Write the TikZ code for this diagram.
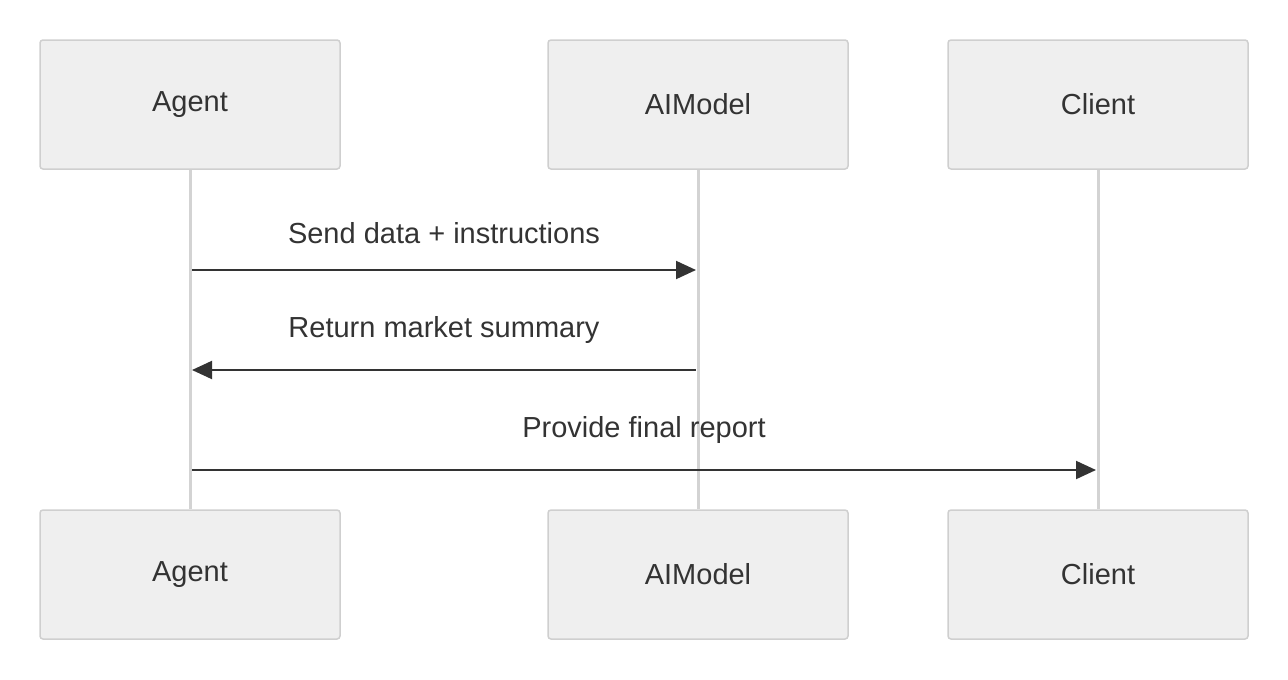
\documentclass[tikz,border=0pt]{standalone}
\usepackage{fontspec}
\setmainfont{Liberation Sans}
\usetikzlibrary{arrows.meta}
\definecolor{boxfill}{HTML}{EFEFEF}
\definecolor{boxline}{HTML}{CFCFCF}
\definecolor{lifeline}{HTML}{D3D3D3}
\definecolor{msgline}{HTML}{333333}

\begin{document}
\begin{tikzpicture}
    [x=1pt, y=-1pt,
    every node/.style = {font=\fontsize{29}{34}\selectfont, text=msgline},
    actor/.style = {draw=boxline, line width=1.5pt, fill=boxfill, rounded corners=3pt,
        minimum width=300pt, minimum height=129pt},
    life/.style = {draw=lifeline, line width=3pt},
    message/.style = {draw=msgline, line width=2pt, -{Triangle[length=20pt, width=18pt]}}
    ]
    \useasboundingbox (0,0) rectangle (1288,680);
    % participants
    \node[actor] (agentTop) at (190,104.5) {Agent};
    \node[actor] (modelTop) at (698,104.5) {AIModel};
    \node[actor] (clientTop) at (1098,104.5) {Client};
    \node[actor] (agentBot) at (190,574.5) {Agent};
    \node[actor] (modelBot) at (698,574.5) {AIModel};
    \node[actor] (clientBot) at (1098,574.5) {Client};
    % lifelines
    \draw[life] (agentTop) -- (agentBot);
    \draw[life] (modelTop) -- (modelBot);
    \draw[life] (clientTop) -- (clientBot);
    % messages
    \coordinate (a1) at (192,270);
    \coordinate (m1) at (696,270);
    \coordinate (m2) at (696,370);
    \coordinate (a2) at (192,370);
    \coordinate (a3) at (192,470);
    \coordinate (c3) at (1096,470);
    \draw[message] (a1) -- (m1) node[midway, above=22pt] (sendLabel) {Send data + instructions};
    \draw[message] (m2) -- (a2) node[midway, above=22pt] (returnLabel) {Return market summary};
    \draw[message] (a3) -- (c3) node[midway, above=22pt] (reportLabel) {Provide final report};
\end{tikzpicture}
\end{document}
